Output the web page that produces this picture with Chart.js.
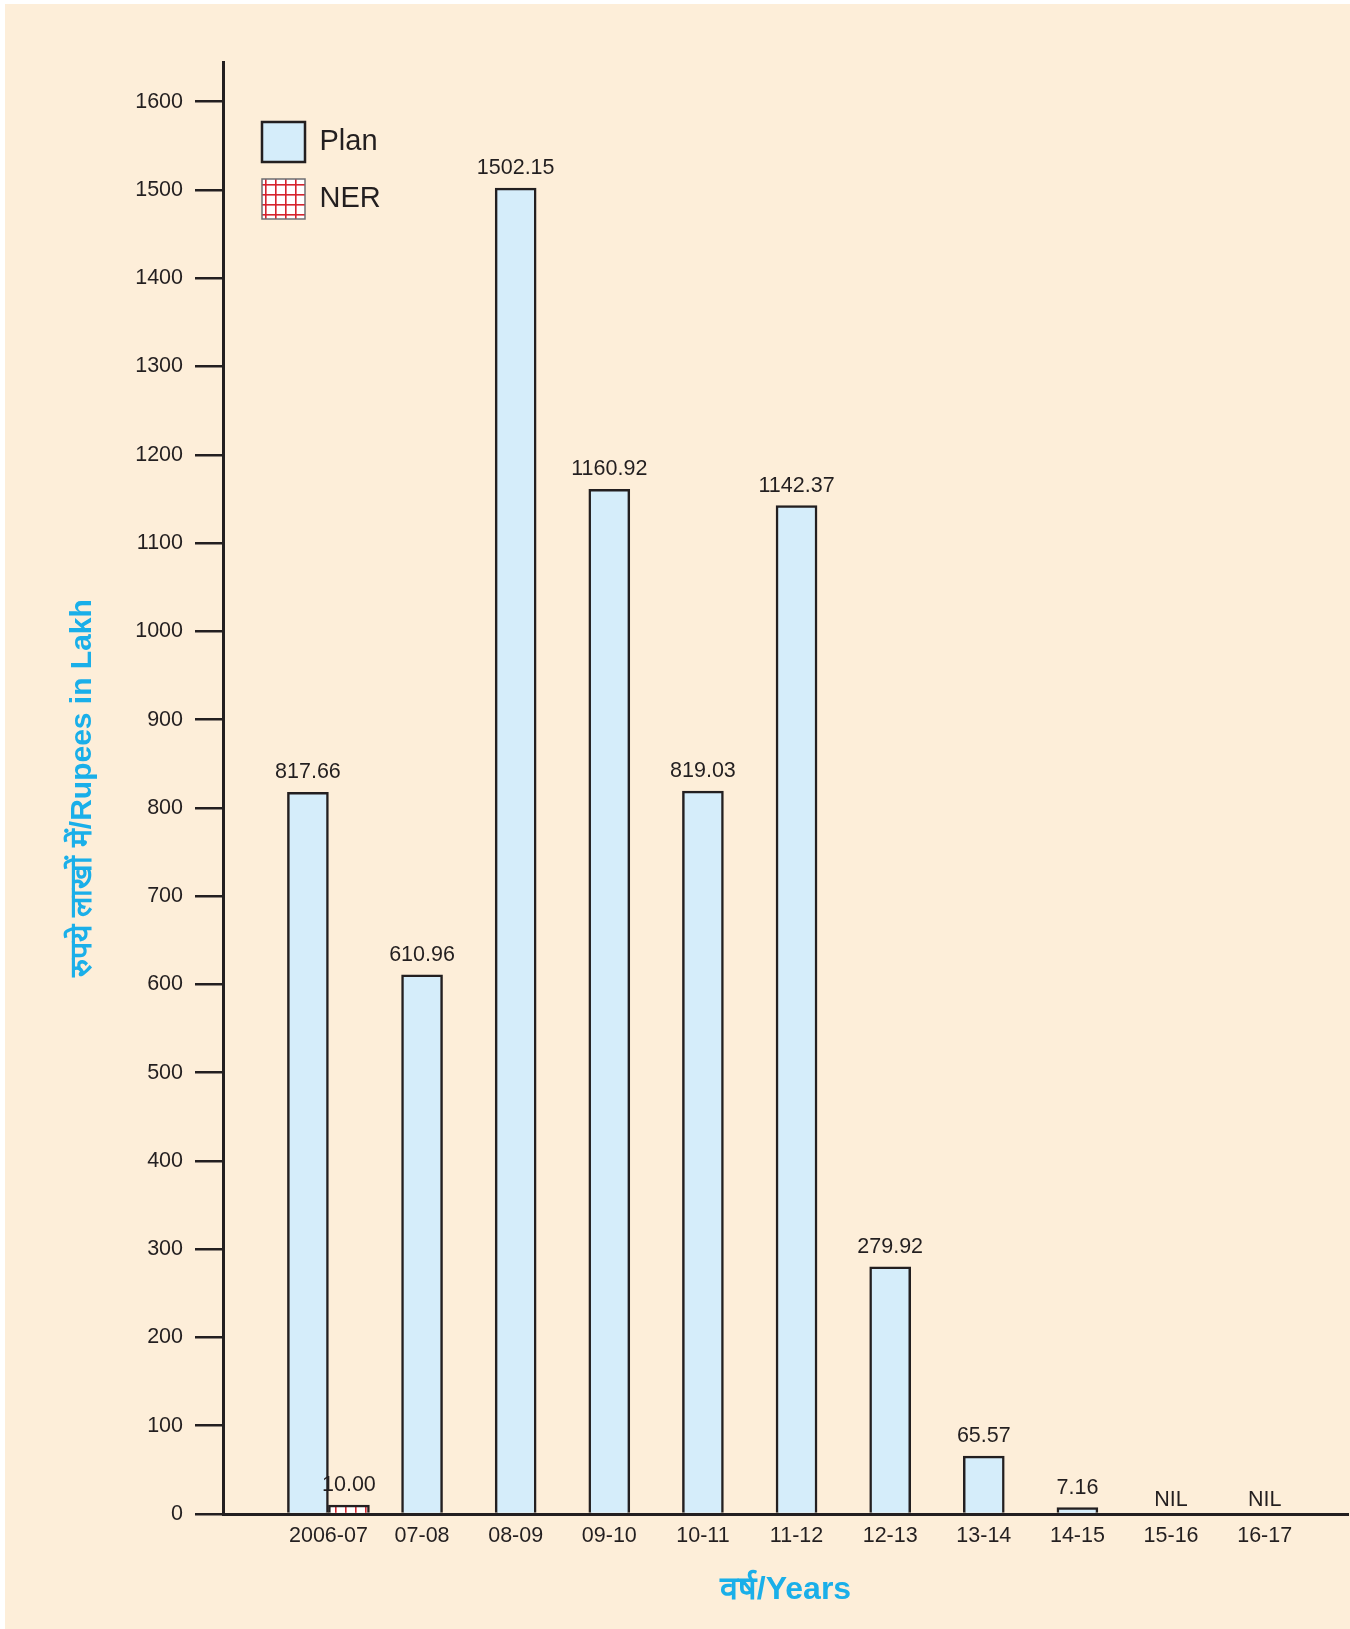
<!DOCTYPE html>
<html lang="hi">
<head>
    <meta charset="UTF-8">
    <title>Plan and NER by year</title>
    <script src="https://cdn.jsdelivr.net/npm/chart.js"></script>
    <style>
        body { margin: 0; background: #ffffff; }
        #wrap { position: absolute; left: 5px; top: 4px; width: 1345px; height: 1625px; background: #fdeed9; }
    </style>
</head>
<body>
    <div id="wrap"><canvas id="planChart"></canvas></div>

    <script>
        // values (Rupees in Lakh)
        const years = ['2006-07', '07-08', '08-09', '09-10', '10-11', '11-12', '12-13', '13-14', '14-15', '15-16', '16-17'];
        const planValues = [817.66, 610.96, 1502.15, 1160.92, 819.03, 1142.37, 279.92, 65.57, 7.16, null, null];
        const nerValues = [10.00, null, null, null, null, null, null, null, null, null, null];
        const yTicks = [0, 100, 200, 300, 400, 500, 600, 700, 800, 900, 1000, 1100, 1200, 1300, 1400, 1500, 1600];

        const ink = '#231f20';
        const blue = '#1aafe9';
        const font = '"Liberation Sans", Arial, sans-serif';

        Chart.defaults.font.family = font;
        Chart.defaults.color = ink;

        const canvas = document.getElementById('planChart');
        const ctx = canvas.getContext('2d');

        // white squares with red lines, like the NER hatch
        function redGrid() {
            const tile = document.createElement('canvas');
            tile.width = 10;
            tile.height = 10;
            const g = tile.getContext('2d');
            g.fillStyle = '#ffffff';
            g.fillRect(0, 0, 10, 10);
            g.fillStyle = '#d6232e';
            g.fillRect(0, 0, 10, 1.6);
            g.fillRect(0, 0, 1.6, 10);
            return ctx.createPattern(tile, 'repeat');
        }

        // numbers above the bars, NIL where there is no plan figure
        const barValueLabels = {
            id: 'barValueLabels',
            afterDatasetsDraw(chart) {
                const c = chart.ctx;
                c.save();
                c.font = '21.5px ' + font;
                c.fillStyle = ink;
                c.textAlign = 'center';
                c.textBaseline = 'alphabetic';
                chart.data.datasets.forEach((ds, di) => {
                    chart.getDatasetMeta(di).data.forEach((bar, i) => {
                        const v = ds.data[i].y;
                        if (v !== null) c.fillText(v.toFixed(2), bar.x, bar.y - 14);
                    });
                });
                const base = chart.scales.y.getPixelForValue(0);
                planValues.forEach((v, i) => {
                    if (v === null) c.fillText('NIL', chart.scales.x.getPixelForValue(i), base - 8);
                });
                c.restore();
            }
        };

        // legend sits inside the plot, top left
        const legendInPlot = {
            id: 'legendInPlot',
            afterLayout(chart) {
                const lg = chart.legend;
                const area = chart.chartArea;
                lg.left = area.left + 22;
                lg.top = area.top + 43;
                lg.right = lg.left + 300;
                lg.bottom = lg.top + 200;
            }
        };

        new Chart(ctx, {
            type: 'bar',
            data: {
                datasets: [{
                    label: 'Plan',
                    data: years.map((_, i) => ({ x: i, y: planValues[i] })),
                    backgroundColor: '#d5edfa',
                    borderColor: ink,
                    borderWidth: 2.5,
                    barThickness: 41,
                    skipNull: true
                }, {
                    label: 'NER',
                    data: years.map((_, i) => ({ x: i, y: nerValues[i] })),
                    backgroundColor: redGrid(),
                    borderColor: ink,
                    borderWidth: 2.5,
                    barThickness: 41,
                    skipNull: true
                }]
            },
            options: {
                responsive: true,
                maintainAspectRatio: false,
                animation: false,
                layout: { padding: { top: 58, right: 2, left: 0, bottom: 0 } },
                scales: {
                    x: {
                        type: 'linear',
                        offset: false,
                        min: -1.126,
                        max: 10.89,
                        z: 1,
                        afterFit: s => { s.height = 115; },
                        afterBuildTicks: s => { s.ticks = years.map((_, i) => ({ value: i })); },
                        grid: { display: false, drawTicks: false },
                        border: { display: true, color: ink, width: 3 },
                        ticks: {
                            autoSkip: false,
                            maxRotation: 0,
                            padding: 9,
                            font: { size: 21.5 },
                            color: ink,
                            callback: v => years[v]
                        },
                        title: {
                            display: true,
                            text: 'वर्ष/Years',
                            color: blue,
                            font: { size: 32, weight: 'bold' },
                            padding: { top: 0, bottom: 20 }
                        }
                    },
                    y: {
                        min: 0,
                        max: 1645,
                        afterFit: s => { s.width = 218; },
                        afterBuildTicks: s => { s.ticks = yTicks.map(v => ({ value: v })); },
                        grid: { drawOnChartArea: false, drawTicks: true, tickLength: 28, color: ink, lineWidth: 2.5 },
                        border: { display: true, color: ink, width: 3 },
                        ticks: {
                            padding: 12,
                            font: { size: 21.5 },
                            color: ink,
                            callback: v => String(v)
                        },
                        title: {
                            display: true,
                            text: 'रुपये लाखों में/Rupees in Lakh',
                            color: blue,
                            font: { size: 30, weight: 'bold' },
                            padding: { top: 60, bottom: 0 }
                        }
                    }
                },
                plugins: {
                    legend: {
                        position: 'chartArea',
                        align: 'start',
                        labels: {
                            boxWidth: 43,
                            boxHeight: 40,
                            padding: 17,
                            font: { size: 29 },
                            color: ink,
                            generateLabels: chart => {
                                const items = Chart.defaults.plugins.legend.labels.generateLabels(chart);
                                items[1].lineWidth = 1.5;
                                items[1].strokeStyle = '#6d6e71';
                                return items;
                            }
                        }
                    },
                    tooltip: { enabled: false }
                }
            },
            plugins: [barValueLabels, legendInPlot]
        });
    </script>
</body>
</html>
